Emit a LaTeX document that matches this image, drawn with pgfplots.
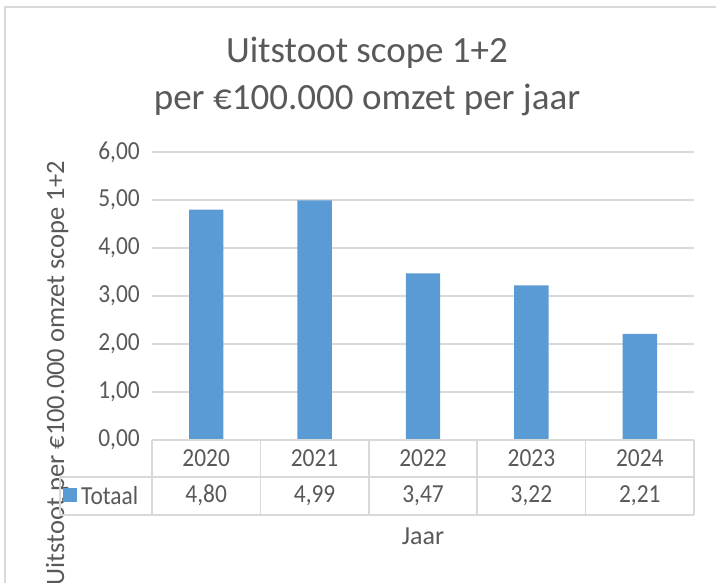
\documentclass[border=0pt]{standalone}
\usepackage{fontspec}
\setmainfont{Carlito}
\newfontfamily\tickf{Carlito}[FakeStretch=0.9]
\usepackage{pgfplots}
\pgfplotsset{compat=1.18}
\definecolor{txt}{HTML}{595959}
\definecolor{gridc}{HTML}{D9D9D9}
\definecolor{barc}{HTML}{5B9BD5}
\newcommand{\tf}{\tickf\fontsize{26}{30}\selectfont}
\begin{document}
\begin{tikzpicture}
\path[use as bounding box] (0pt,0pt) rectangle (716pt,583pt);
\draw[gridc, line width=1.5pt] (5pt,0pt) -- (5pt,576pt) -- (716pt,576pt);
\node[txt, font=\fontsize{37}{44}\selectfont, anchor=base, inner sep=0pt] at (367pt,520pt) {Uitstoot scope 1+2};
\node[txt, font=\fontsize{37}{44}\selectfont, anchor=base, inner sep=0pt] at (367pt,473pt) {per €100.000 omzet per jaar};
\node[txt, rotate=90, anchor=base east, inner sep=0pt, font=\fontsize{26.5}{31}\selectfont] at (64pt,422pt) {Uitstoot per €100.000 omzet scope 1+2};
\begin{axis}[
  at={(152pt,143pt)}, anchor=south west,
  scale only axis, width=542pt, height=288pt,
  ymin=0, ymax=6, xmin=-0.5, xmax=4.5,
  ytick={0,1,2,3,4,5,6},
  xtick={0,1,2,3,4},
  xticklabels={2020,2021,2022,2023,2024},
  ymajorgrids,
  grid style={gridc, line width=1.3pt},
  axis line style={draw=none},
  major tick length=0pt,
  clip=false,
  /pgf/number format/assume math mode=true,
  yticklabel={\pgfmathprintnumber[fixed, fixed zerofill, precision=2, use comma]{\tick}},
  yticklabel style={anchor=east, inner sep=0pt, xshift=-12pt, font=\tf, text=txt},
  xticklabel style={anchor=center, inner sep=0pt, yshift=-18.5pt, font=\tf, text=txt},
  xlabel={Jaar},
  xlabel style={at={(axis description cs:0.5,0)}, anchor=base, inner sep=0pt, yshift=-105pt, font=\fontsize{26}{31}\selectfont, text=txt},
]
\addplot[ybar, bar width=34.4pt, fill=barc, draw=none] coordinates {(0,4.80) (1,4.99) (2,3.47) (3,3.22) (4,2.21)};
% data table grid
\draw[gridc, line width=1.5pt] (axis cs:-0.5,0) -- (axis cs:4.5,0);
\draw[gridc, line width=1.5pt] (axis cs:-1.349,-0.771) -- (axis cs:4.5,-0.771);
\draw[gridc, line width=1.5pt] (axis cs:-1.349,-1.5625) -- (axis cs:4.5,-1.5625);
\draw[gridc, line width=1.5pt] (axis cs:-1.349,-0.771) -- (axis cs:-1.349,-1.5625);
\draw[gridc, line width=1.5pt] (axis cs:-0.5,0) -- (axis cs:-0.5,-1.5625);
\draw[gridc, line width=1.5pt] (axis cs:0.5,0) -- (axis cs:0.5,-1.5625);
\draw[gridc, line width=1.5pt] (axis cs:1.5,0) -- (axis cs:1.5,-1.5625);
\draw[gridc, line width=1.5pt] (axis cs:2.5,0) -- (axis cs:2.5,-1.5625);
\draw[gridc, line width=1.5pt] (axis cs:3.5,0) -- (axis cs:3.5,-1.5625);
\draw[gridc, line width=1.5pt] (axis cs:4.5,0) -- (axis cs:4.5,-1.5625);
\fill[barc] (axis cs:-1.321,-1.0) rectangle (axis cs:-1.192,-1.292);
\node[txt, anchor=west, inner sep=0pt, font=\tf] at (axis cs:-1.155,-1.156) {Totaal};
\node[txt, inner sep=0pt, font=\tf] at (axis cs:0,-1.156) {4,80};
\node[txt, inner sep=0pt, font=\tf] at (axis cs:1,-1.156) {4,99};
\node[txt, inner sep=0pt, font=\tf] at (axis cs:2,-1.156) {3,47};
\node[txt, inner sep=0pt, font=\tf] at (axis cs:3,-1.156) {3,22};
\node[txt, inner sep=0pt, font=\tf] at (axis cs:4,-1.156) {2,21};
\end{axis}
\end{tikzpicture}
\end{document}
